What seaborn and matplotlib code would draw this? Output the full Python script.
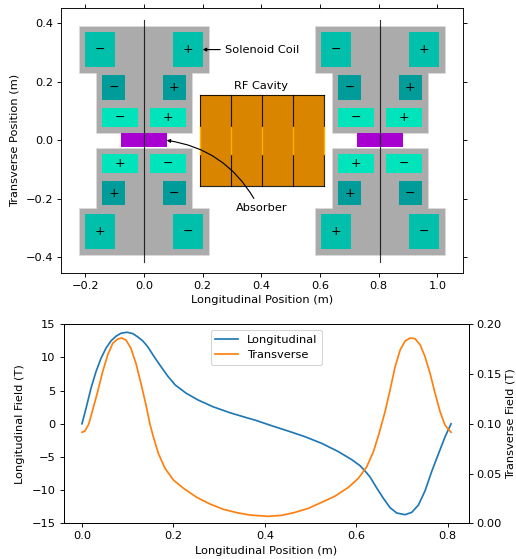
import matplotlib
matplotlib.use("Agg")
import matplotlib.pyplot as plt
from matplotlib.patches import Rectangle, Polygon
import seaborn as sns
import pandas as pd

# --- field profiles ---
long_x = [0.0, 0.00875, 0.0197, 0.0306, 0.0416, 0.0525, 0.0635, 0.0744, 0.0853, 0.0985, 0.111, 0.122, 0.133, 0.144, 0.158, 0.173, 0.1875, 0.204, 0.228, 0.2545, 0.287, 0.324, 0.36, 0.3786, 0.415, 0.4515, 0.488, 0.5245, 0.561, 0.59, 0.608, 0.619, 0.63, 0.645, 0.659, 0.674, 0.6886, 0.7068, 0.7214, 0.736, 0.7505, 0.765, 0.78, 0.794, 0.8037, 0.8075]
long_y = [0.0, 2.3, 5.35, 7.85, 9.87, 11.4, 12.5, 13.2, 13.65, 13.8, 13.6, 13.1, 12.5, 11.6, 10.1, 8.6, 7.2, 5.85, 4.6, 3.57, 2.56, 1.66, 0.92, 0.56, -0.29, -1.1, -1.95, -2.95, -4.2, -5.4, -6.3, -7.1, -8.0, -9.7, -11.2, -12.65, -13.45, -13.7, -13.35, -12.25, -10.1, -7.2, -4.5, -2.0, -0.55, 0.0]
trans_x = [0.0, 0.006, 0.0146, 0.0234, 0.0343, 0.0453, 0.0562, 0.0672, 0.0781, 0.0869, 0.0963, 0.107, 0.118, 0.129, 0.14, 0.1488, 0.156, 0.167, 0.1816, 0.2, 0.222, 0.251, 0.28, 0.309, 0.3385, 0.3676, 0.4077, 0.437, 0.466, 0.495, 0.5245, 0.554, 0.583, 0.6046, 0.623, 0.6376, 0.65, 0.663, 0.674, 0.685, 0.696, 0.7068, 0.718, 0.7287, 0.74, 0.7505, 0.7615, 0.7724, 0.7834, 0.794, 0.8015, 0.8075]
trans_y = [0.0915, 0.0925, 0.0995, 0.1139, 0.1323, 0.1524, 0.1692, 0.1809, 0.1852, 0.1862, 0.1842, 0.1759, 0.1608, 0.1407, 0.1189, 0.0995, 0.087, 0.0703, 0.0553, 0.0435, 0.0352, 0.0261, 0.0194, 0.0141, 0.0107, 0.0083, 0.007, 0.008, 0.011, 0.015, 0.0211, 0.0274, 0.0362, 0.0452, 0.0569, 0.072, 0.0904, 0.1122, 0.134, 0.1574, 0.1742, 0.1832, 0.1862, 0.1855, 0.1792, 0.1674, 0.1507, 0.1307, 0.1122, 0.0988, 0.0945, 0.0915]

# --- magnet layout (metres) ---
magnet_centers = [0.0, 0.804]
outer_coil = [0.10, 0.20, 0.25, 0.37]
middle_coil = [0.064, 0.143, 0.138, 0.222]
inner_coil = [0.02, 0.143, 0.045, 0.11]
yoke_half = [0.22, 0.163, 0.025, 0.23, 0.39]
absorber_half = [0.078, 0.024]
cavity_edges = [0.19, 0.2955, 0.401, 0.5065, 0.612]
cavity_half = 0.155
iris_half = 0.047

GRAY = "#ABABAB"
OUTER = "#00BFAB"
MIDDLE = "#009C9A"
INNER = "#00E4BC"
PURPLE = "#A800D0"
COPPER = "#D98500"
IRIS = "#FFB000"

DPI = 82
fig = plt.figure(figsize=(516 / DPI, 559 / DPI), dpi=DPI)
W, H = 516, 559
ax = fig.add_axes([61 / W, 1 - 272.7 / H, 402 / W, 264.7 / H])
ax2 = fig.add_axes([63.7 / W, 1 - 523.3 / H, 405 / W, 199 / H])


def rect(a, x0, x1, y0, y1, color, z=2, **kw):
    a.add_patch(Rectangle((x0, y0), x1 - x0, y1 - y0, facecolor=color, edgecolor=kw.pop("ec", "none"), zorder=z, **kw))


def magnet(a, c):
    xo, xi, y0, y1, y2 = yoke_half
    for s in (1, -1):
        a.add_patch(Polygon(
            [(c - xo, s * y2), (c + xo, s * y2), (c + xo, s * y1), (c + xi, s * y1), (c + xi, s * y0), (c - xi, s * y0), (c - xi, s * y1), (c - xo, s * y1)],
            closed=True, facecolor=GRAY, edgecolor="#DDDDDD", lw=0.5, zorder=1))
    for coil, col in ((outer_coil, OUTER), (middle_coil, MIDDLE), (inner_coil, INNER)):
        a0, a1, b0, b1 = coil
        for sy in (1, -1):
            yl, yh = sorted((sy * b0, sy * b1))
            rect(a, c - a1, c - a0, yl, yh, col)
            rect(a, c + a0, c + a1, yl, yh, col)
            ym = (yl + yh) / 2
            sign_left, sign_right = ("\u2212", "+") if sy == 1 else ("+", "\u2212")
            a.text(c - (a0 + a1) / 2, ym, sign_left, ha="center", va="center", color="black", fontsize=11, zorder=4)
            a.text(c + (a0 + a1) / 2, ym, sign_right, ha="center", va="center", color="black", fontsize=11, zorder=4)
    rect(a, c - absorber_half[0], c + absorber_half[0], -absorber_half[1], absorber_half[1], PURPLE, z=3)
    a.plot([c, c], [-0.414, 0.41], color="black", lw=1, alpha=0.8, zorder=5)


for c in magnet_centers:
    magnet(ax, c)

rect(ax, cavity_edges[0], cavity_edges[-1], -cavity_half, cavity_half, COPPER)
for xe in cavity_edges:
    ax.plot([xe, xe], [iris_half, cavity_half], color="black", lw=1, alpha=0.85, zorder=3)
    ax.plot([xe, xe], [-cavity_half, -iris_half], color="black", lw=1, alpha=0.85, zorder=3)
    ax.plot([xe, xe], [-iris_half, iris_half], color=IRIS, lw=1.2, zorder=3)
ax.plot(cavity_edges[::len(cavity_edges) - 1], [cavity_half, cavity_half], color="black", lw=1, alpha=0.85, zorder=3)
ax.plot(cavity_edges[::len(cavity_edges) - 1], [-cavity_half, -cavity_half], color="black", lw=1, alpha=0.85, zorder=3)

ax.text(0.40, 0.185, "RF Cavity", ha="center", va="center", fontsize=10, zorder=6)
ax.annotate("Solenoid Coil", xy=(0.2, 0.31), xytext=(0.275, 0.31), ha="left", va="center", fontsize=10,
            arrowprops=dict(arrowstyle="-|>", color="black", lw=1, mutation_scale=6, shrinkA=2, shrinkB=0), zorder=6)
ax.annotate("Absorber", xy=(0.077, 0.0), xytext=(0.40, -0.23), ha="center", va="center", fontsize=10,
            arrowprops=dict(arrowstyle="-|>", color="black", lw=1, mutation_scale=6, shrinkA=2, shrinkB=0,
                            connectionstyle="arc3,rad=0.25", relpos=(0.4, 1)), zorder=6)

ax.set_xlim(-0.283, 1.087)
ax.set_ylim(-0.452, 0.452)
ax.set_xticks([-0.2, 0.0, 0.2, 0.4, 0.6, 0.8, 1.0])
ax.set_yticks([-0.4, -0.2, 0.0, 0.2, 0.4])
ax.tick_params(top=True, right=True)
ax.set_xlabel("Longitudinal Position (m)", labelpad=4)
ax.set_ylabel("Transverse Position (m)", labelpad=5)

df_long = pd.DataFrame({"x": long_x, "y": long_y})
df_trans = pd.DataFrame({"x": trans_x, "y": trans_y})
sns.lineplot(data=df_long, x="x", y="y", ax=ax2, color="#1f77b4", label="Longitudinal", legend=False, sort=False, errorbar=None)
ax2b = ax2.twinx()
sns.lineplot(data=df_trans, x="x", y="y", ax=ax2b, color="#ff7f0e", label="Transverse", legend=False, sort=False, errorbar=None)
ax2.set_xlim(-0.04, 0.846)
ax2.set_ylim(-15, 15)
ax2b.set_ylim(0, 0.2)
ax2.set_xticks([0.0, 0.2, 0.4, 0.6, 0.8])
ax2b.set_yticks([0.0, 0.05, 0.1, 0.15, 0.2])
ax2.set_xlabel("Longitudinal Position (m)", labelpad=4)
ax2.set_ylabel("Longitudinal Field (T)", labelpad=6)
ax2b.set_ylabel("Transverse Field (T)", labelpad=3.5)
h1, l1 = ax2.get_legend_handles_labels()
h2, l2 = ax2b.get_legend_handles_labels()
ax2.legend(h1 + h2, l1 + l2, loc="upper center")

fig.savefig("out.png", dpi=DPI)
